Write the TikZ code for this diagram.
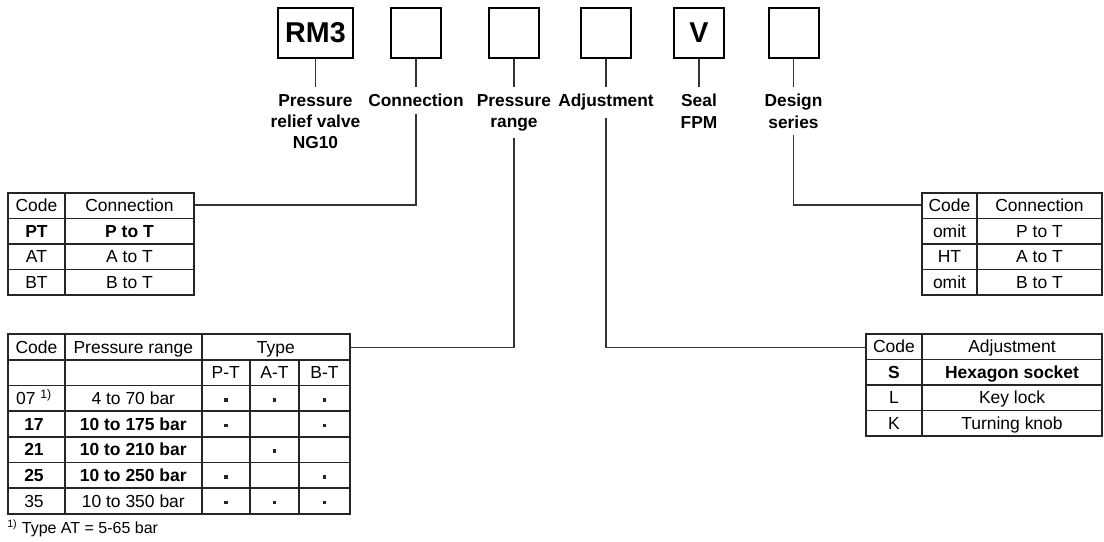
\documentclass[tikz,border=0pt]{standalone}
\usepackage{fontspec}
\setmainfont{Liberation Sans}
\begin{document}
\begin{tikzpicture}[x=0.75pt,y=-0.75pt,
    codebox/.style={draw=black,line width=1.5pt,minimum width=37.5pt,minimum height=37.5pt,inner sep=0pt,font=\bfseries\fontsize{21.5}{21.5}\selectfont},
    lbl/.style={anchor=north,align=center,inner xsep=0pt,inner ysep=5.2pt,font=\bfseries\fontsize{13}{16}\selectfont},
    lead/.style={draw=black!80,line width=0.95pt},
    grid/.style={draw=black!85,line width=1.25pt},
    cell/.style={inner sep=0pt,text height=9.3pt,text depth=0pt,font=\fontsize{13.1}{15}\selectfont},
    dot/.style={fill=black!85,inner sep=0pt,minimum size=2.8pt}]
  \useasboundingbox (0,0) rectangle (1104,542);

  % the code boxes
  \node[codebox,minimum width=56pt] (rmbox) at (315.5,33) {RM3};
  \node[codebox] (conbox) at (416,33) {};
  \node[codebox] (prbox) at (514,33) {};
  \node[codebox] (adjbox) at (606,33) {};
  \node[codebox] (sealbox) at (699,33) {V};
  \node[codebox] (serbox) at (793.5,33) {};

  % and what they mean
  \node[lbl] (rmlbl) at (315.5,87) {Pressure\\relief valve\\NG10};
  \node[lbl] (conlbl) at (416,87) {Connection};
  \node[lbl] (prlbl) at (514,87) {Pressure\\range};
  \node[lbl] (adjlbl) at (606,87) {Adjustment};
  \node[lbl] (seallbl) at (699,87) {Seal\\FPM};
  \node[lbl] (serlbl) at (793.5,87) {Design\\series};
  \foreach \n in {rm,con,pr,adj,seal,ser}
    \draw[lead] (\n box.south) -- (\n lbl.north);

  % leads down to the tables
  \coordinate (conjoin) at (194,205);
  \coordinate (prjoin) at (350,347.5);
  \coordinate (adjjoin) at (866,347.5);
  \coordinate (serjoin) at (922,205);
  \draw[lead] (conlbl.south) |- (conjoin);
  \draw[lead] (prlbl.south) |- (prjoin);
  \draw[lead] (adjlbl.south) |- (adjjoin);
  \draw[lead] (serlbl.south) |- (serjoin);

  % connection table
  \draw[grid] (8,193) rectangle (194,295);
  \draw[grid] (65,193) -- (65,295);
  \foreach \y in {218.5,244,269.5} \draw[grid] (8,\y) -- (194,\y);
  \foreach \c/\t [count=\i] in {Code/Connection,\textbf{PT}/\textbf{P to T},AT/A to T,BT/B to T}{
    \node[cell] (conc\i) at (36.5,180.2+25.5*\i) {\c};
    \node[cell] (cont\i) at (129.5,180.2+25.5*\i) {\t};
  }

  % pressure range table
  \draw[grid] (8,334) rectangle (350,514);
  \foreach \x in {65,201.7} \draw[grid] (\x,334) -- (\x,514);
  \foreach \x in {250,299} \draw[grid] (\x,359.7) -- (\x,514);
  \foreach \k in {1,...,6} \draw[grid] (8,334+25.71*\k) -- (350,334+25.71*\k);
  \node[cell] (prh1) at (36.5,346.9) {Code};
  \node[cell] (prh2) at (133.3,346.9) {Pressure range};
  \node[cell] (prh3) at (275.8,346.9) {Type};
  \node[cell] (prpt) at (225.8,372.6) {P-T};
  \node[cell] (prat) at (274.5,372.6) {A-T};
  \node[cell] (prbt) at (324.5,372.6) {B-T};
  \foreach \c/\r/\a/\b/\d [count=\i] in {07 \textsuperscript{1)}/4 to 70 bar/1/1/1,
      \textbf{17}/\textbf{10 to 175 bar}/1/0/1,\textbf{21}/\textbf{10 to 210 bar}/0/1/0,
      \textbf{25}/\textbf{10 to 250 bar}/1/0/1,35/10 to 350 bar/1/1/1}{
    \node[cell] (prc\i) at (34,372.6+25.71*\i) {\c};
    \node[cell] (prr\i) at (133.3,372.6+25.71*\i) {\r};
    \ifnum\a=1 \node[dot] (dpt\i) at (225.8,374+25.71*\i) {};\fi
    \ifnum\b=1 \node[dot] (dat\i) at (274.5,374+25.71*\i) {};\fi
    \ifnum\d=1 \node[dot] (dbt\i) at (324.5,374+25.71*\i) {};\fi
  }
  \node[cell,anchor=west,font=\fontsize{12}{14}\selectfont] (fnote) at (7,527) {\textsuperscript{1)} Type AT = 5-65 bar};

  % design series table
  \draw[grid] (922,193) rectangle (1102,295);
  \draw[grid] (977,193) -- (977,295);
  \foreach \y in {218.5,244,269.5} \draw[grid] (922,\y) -- (1102,\y);
  \foreach \c/\t [count=\i] in {Code/Connection,omit/P to T,HT/A to T,omit/B to T}{
    \node[cell] (serc\i) at (949.5,180.2+25.5*\i) {\c};
    \node[cell] (sert\i) at (1039.5,180.2+25.5*\i) {\t};
  }

  % adjustment table
  \draw[grid] (866,334) rectangle (1102,436);
  \draw[grid] (922,334) -- (922,436);
  \foreach \y in {359.5,385,410.5} \draw[grid] (866,\y) -- (1102,\y);
  \foreach \c/\t [count=\i] in {Code/Adjustment,\textbf{S}/\textbf{Hexagon socket},L/Key lock,K/Turning knob}{
    \node[cell] (adjc\i) at (894,321.2+25.5*\i) {\c};
    \node[cell] (adjt\i) at (1012,321.2+25.5*\i) {\t};
  }
\end{tikzpicture}
\end{document}
